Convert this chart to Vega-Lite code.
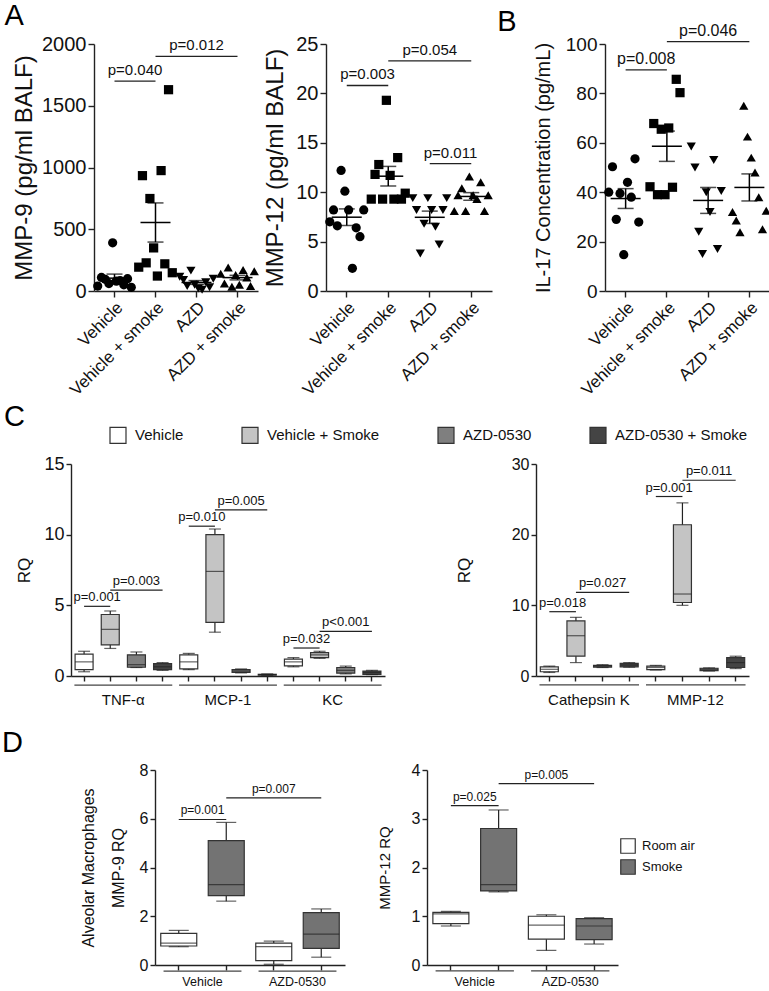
{
  "$schema": "https://vega.github.io/schema/vega-lite/v6.json",
  "background": "white",
  "padding": {"left": 2, "top": 2, "right": 2, "bottom": 0},
  "config": {
    "font": "Liberation Sans",
    "view": {"stroke": null},
    "axis": {"grid": false, "domainColor": "#222", "tickColor": "#222", "domainWidth": 1.4, "tickWidth": 1.4, "labelColor": "#111", "titleColor": "#111", "titleFontWeight": "normal"},
    "scale": {"nice": false},
    "title": {"fontSize": 29, "fontWeight": "normal", "anchor": "start", "frame": "bounds", "color": "#000"},
    "text": {"color": "#111"}
  },
  "datasets": {
    "mmp9": [
      {"g": "Vehicle", "v": 40}, {"g": "Vehicle", "v": 110}, {"g": "Vehicle", "v": 95}, {"g": "Vehicle", "v": 60}, {"g": "Vehicle", "v": 390},
      {"g": "Vehicle", "v": 80}, {"g": "Vehicle", "v": 85}, {"g": "Vehicle", "v": 50}, {"g": "Vehicle", "v": 100}, {"g": "Vehicle", "v": 30},
      {"g": "Vehicle + smoke", "v": 193}, {"g": "Vehicle + smoke", "v": 934}, {"g": "Vehicle + smoke", "v": 228}, {"g": "Vehicle + smoke", "v": 749}, {"g": "Vehicle + smoke", "v": 349},
      {"g": "Vehicle + smoke", "v": 121}, {"g": "Vehicle + smoke", "v": 975}, {"g": "Vehicle + smoke", "v": 220}, {"g": "Vehicle + smoke", "v": 1630}, {"g": "Vehicle + smoke", "v": 148},
      {"g": "AZD", "v": 115}, {"g": "AZD", "v": 90}, {"g": "AZD", "v": 40}, {"g": "AZD", "v": 165}, {"g": "AZD", "v": 50},
      {"g": "AZD", "v": 20}, {"g": "AZD", "v": 10}, {"g": "AZD", "v": 70}, {"g": "AZD", "v": 30}, {"g": "AZD", "v": 100},
      {"g": "AZD + smoke", "v": 140}, {"g": "AZD + smoke", "v": 60}, {"g": "AZD + smoke", "v": 190}, {"g": "AZD + smoke", "v": 35}, {"g": "AZD + smoke", "v": 130},
      {"g": "AZD + smoke", "v": 50}, {"g": "AZD + smoke", "v": 170}, {"g": "AZD + smoke", "v": 110}, {"g": "AZD + smoke", "v": 40}, {"g": "AZD + smoke", "v": 160}
    ],
    "mmp12": [
      {"g": "Vehicle", "v": 7.0}, {"g": "Vehicle", "v": 8.2}, {"g": "Vehicle", "v": 6.6}, {"g": "Vehicle", "v": 12.2}, {"g": "Vehicle", "v": 10.1},
      {"g": "Vehicle", "v": 8.2}, {"g": "Vehicle", "v": 2.3}, {"g": "Vehicle", "v": 6.4}, {"g": "Vehicle", "v": 5.5}, {"g": "Vehicle", "v": 8.2},
      {"g": "Vehicle + smoke", "v": 9.3}, {"g": "Vehicle + smoke", "v": 11.8}, {"g": "Vehicle + smoke", "v": 12.8}, {"g": "Vehicle + smoke", "v": 9.3}, {"g": "Vehicle + smoke", "v": 19.3},
      {"g": "Vehicle + smoke", "v": 11.7}, {"g": "Vehicle + smoke", "v": 9.3}, {"g": "Vehicle + smoke", "v": 13.5}, {"g": "Vehicle + smoke", "v": 9.3}, {"g": "Vehicle + smoke", "v": 9.9},
      {"g": "AZD", "v": 9.4}, {"g": "AZD", "v": 8.2}, {"g": "AZD", "v": 3.8}, {"g": "AZD", "v": 6.8}, {"g": "AZD", "v": 9.4},
      {"g": "AZD", "v": 8.2}, {"g": "AZD", "v": 6.5}, {"g": "AZD", "v": 4.7}, {"g": "AZD", "v": 8.2}, {"g": "AZD", "v": 9.4},
      {"g": "AZD + smoke", "v": 8.1}, {"g": "AZD + smoke", "v": 9.7}, {"g": "AZD + smoke", "v": 10.4}, {"g": "AZD + smoke", "v": 8.1}, {"g": "AZD + smoke", "v": 11.6},
      {"g": "AZD + smoke", "v": 9.7}, {"g": "AZD + smoke", "v": 9.3}, {"g": "AZD + smoke", "v": 11.0}, {"g": "AZD + smoke", "v": 8.1}, {"g": "AZD + smoke", "v": 9.7}
    ],
    "il17": [
      {"g": "Vehicle", "v": 40}, {"g": "Vehicle", "v": 50.3}, {"g": "Vehicle", "v": 29}, {"g": "Vehicle", "v": 39.5}, {"g": "Vehicle", "v": 14.7},
      {"g": "Vehicle", "v": 44}, {"g": "Vehicle", "v": 38}, {"g": "Vehicle", "v": 53.5}, {"g": "Vehicle", "v": 27.9},
      {"g": "Vehicle + smoke", "v": 42.2}, {"g": "Vehicle + smoke", "v": 67.8}, {"g": "Vehicle + smoke", "v": 39}, {"g": "Vehicle + smoke", "v": 65.5}, {"g": "Vehicle + smoke", "v": 39},
      {"g": "Vehicle + smoke", "v": 66}, {"g": "Vehicle + smoke", "v": 42}, {"g": "Vehicle + smoke", "v": 85.7}, {"g": "Vehicle + smoke", "v": 80.3},
      {"g": "AZD", "v": 58.5}, {"g": "AZD", "v": 50}, {"g": "AZD", "v": 24}, {"g": "AZD", "v": 15}, {"g": "AZD", "v": 40},
      {"g": "AZD", "v": 32}, {"g": "AZD", "v": 53}, {"g": "AZD", "v": 17}, {"g": "AZD", "v": 40.5},
      {"g": "AZD + smoke", "v": 32}, {"g": "AZD + smoke", "v": 28.5}, {"g": "AZD + smoke", "v": 23.8}, {"g": "AZD + smoke", "v": 75}, {"g": "AZD + smoke", "v": 62.5},
      {"g": "AZD + smoke", "v": 54}, {"g": "AZD + smoke", "v": 48}, {"g": "AZD + smoke", "v": 38}, {"g": "AZD + smoke", "v": 25}, {"g": "AZD + smoke", "v": 32.5}
    ],
    "brA1": [
      {"a": "Vehicle", "b": "Vehicle + smoke", "m": "Vehicle", "t": "adj", "y": 1700, "p": "p=0.040"},
      {"a": "Vehicle + smoke", "b": "AZD + smoke", "m": "AZD", "t": "mid", "y": 1900, "p": "p=0.012"}
    ],
    "brA2": [
      {"a": "Vehicle", "b": "Vehicle + smoke", "m": "Vehicle", "t": "adj", "y": 20.8, "p": "p=0.003"},
      {"a": "Vehicle + smoke", "b": "AZD + smoke", "m": "AZD", "t": "mid", "y": 23.3, "p": "p=0.054"},
      {"a": "AZD", "b": "AZD + smoke", "m": "AZD", "t": "adj", "y": 12.9, "p": "p=0.011"}
    ],
    "brB": [
      {"a": "Vehicle", "b": "Vehicle + smoke", "m": "Vehicle", "t": "adj", "y": 89.5, "p": "p=0.008"},
      {"a": "Vehicle + smoke", "b": "AZD + smoke", "m": "AZD", "t": "mid", "y": 101, "p": "p=0.046"}
    ],
    "boxC1": [
      {"k": "TNF-α|Vehicle", "grp": "Vehicle", "lo": 0.3, "q1": 0.45, "md": 1.0, "q3": 1.55, "hi": 1.75},
      {"k": "TNF-α|Vehicle + Smoke", "grp": "Vehicle + Smoke", "lo": 1.95, "q1": 2.2, "md": 3.3, "q3": 4.35, "hi": 4.6},
      {"k": "TNF-α|AZD-0530", "grp": "AZD-0530", "lo": 0.6, "q1": 0.62, "md": 0.8, "q3": 1.5, "hi": 1.7},
      {"k": "TNF-α|AZD-0530 + Smoke", "grp": "AZD-0530 + Smoke", "lo": 0.4, "q1": 0.45, "md": 0.65, "q3": 0.88, "hi": 0.95},
      {"k": "MCP-1|Vehicle", "grp": "Vehicle", "lo": 0.45, "q1": 0.5, "md": 1.0, "q3": 1.5, "hi": 1.6},
      {"k": "MCP-1|Vehicle + Smoke", "grp": "Vehicle + Smoke", "lo": 3.1, "q1": 3.8, "md": 7.4, "q3": 10.0, "hi": 10.4},
      {"k": "MCP-1|AZD-0530", "grp": "AZD-0530", "lo": 0.22, "q1": 0.25, "md": 0.35, "q3": 0.45, "hi": 0.5},
      {"k": "MCP-1|AZD-0530 + Smoke", "grp": "AZD-0530 + Smoke", "lo": 0.05, "q1": 0.06, "md": 0.1, "q3": 0.12, "hi": 0.15},
      {"k": "KC|Vehicle", "grp": "Vehicle", "lo": 0.65, "q1": 0.72, "md": 1.0, "q3": 1.2, "hi": 1.3},
      {"k": "KC|Vehicle + Smoke", "grp": "Vehicle + Smoke", "lo": 1.25, "q1": 1.3, "md": 1.5, "q3": 1.65, "hi": 1.75},
      {"k": "KC|AZD-0530", "grp": "AZD-0530", "lo": 0.15, "q1": 0.2, "md": 0.4, "q3": 0.6, "hi": 0.7},
      {"k": "KC|AZD-0530 + Smoke", "grp": "AZD-0530 + Smoke", "lo": 0.1, "q1": 0.12, "md": 0.25, "q3": 0.35, "hi": 0.4}
    ],
    "brC1": [
      {"a": "TNF-α|Vehicle", "b": "TNF-α|Vehicle + Smoke", "m": "TNF-α|Vehicle", "t": "adj", "y": 4.93, "p": "p=0.001"},
      {"a": "TNF-α|Vehicle + Smoke", "b": "TNF-α|AZD-0530 + Smoke", "m": "TNF-α|AZD-0530", "t": "mid", "y": 6.08, "p": "p=0.003"},
      {"a": "MCP-1|Vehicle", "b": "MCP-1|Vehicle + Smoke", "m": "MCP-1|Vehicle", "t": "adj", "y": 10.6, "p": "p=0.010"},
      {"a": "MCP-1|Vehicle + Smoke", "b": "MCP-1|AZD-0530 + Smoke", "m": "MCP-1|AZD-0530", "t": "mid", "y": 11.75, "p": "p=0.005"},
      {"a": "KC|Vehicle", "b": "KC|Vehicle + Smoke", "m": "KC|Vehicle", "t": "adj", "y": 1.98, "p": "p=0.032"},
      {"a": "KC|Vehicle + Smoke", "b": "KC|AZD-0530 + Smoke", "m": "KC|AZD-0530", "t": "mid", "y": 3.16, "p": "p<0.001"}
    ],
    "ulC1": [
      {"a": "TNF-α|Vehicle", "b": "TNF-α|AZD-0530 + Smoke"},
      {"a": "MCP-1|Vehicle", "b": "MCP-1|AZD-0530 + Smoke"},
      {"a": "KC|Vehicle", "b": "KC|AZD-0530 + Smoke"}
    ],
    "boxC2": [
      {"k": "Cathepsin K|Vehicle", "grp": "Vehicle", "lo": 0.5, "q1": 0.6, "md": 0.95, "q3": 1.3, "hi": 1.4},
      {"k": "Cathepsin K|Vehicle + Smoke", "grp": "Vehicle + Smoke", "lo": 1.9, "q1": 2.8, "md": 5.7, "q3": 7.8, "hi": 8.3},
      {"k": "Cathepsin K|AZD-0530", "grp": "AZD-0530", "lo": 1.2, "q1": 1.25, "md": 1.4, "q3": 1.5, "hi": 1.6},
      {"k": "Cathepsin K|AZD-0530 + Smoke", "grp": "AZD-0530 + Smoke", "lo": 1.25, "q1": 1.3, "md": 1.55, "q3": 1.8, "hi": 1.9},
      {"k": "MMP-12|Vehicle", "grp": "Vehicle", "lo": 0.85, "q1": 0.9, "md": 1.2, "q3": 1.4, "hi": 1.5},
      {"k": "MMP-12|Vehicle + Smoke", "grp": "Vehicle + Smoke", "lo": 10.0, "q1": 10.4, "md": 11.6, "q3": 21.4, "hi": 24.5},
      {"k": "MMP-12|AZD-0530", "grp": "AZD-0530", "lo": 0.7, "q1": 0.75, "md": 0.95, "q3": 1.1, "hi": 1.15},
      {"k": "MMP-12|AZD-0530 + Smoke", "grp": "AZD-0530 + Smoke", "lo": 1.05, "q1": 1.2, "md": 1.9, "q3": 2.6, "hi": 2.8}
    ],
    "brC2": [
      {"a": "Cathepsin K|Vehicle", "b": "Cathepsin K|Vehicle + Smoke", "m": "Cathepsin K|Vehicle", "t": "adj", "y": 9.1, "p": "p=0.018"},
      {"a": "Cathepsin K|Vehicle + Smoke", "b": "Cathepsin K|AZD-0530 + Smoke", "m": "Cathepsin K|AZD-0530", "t": "mid", "y": 11.84, "p": "p=0.027"},
      {"a": "MMP-12|Vehicle", "b": "MMP-12|Vehicle + Smoke", "m": "MMP-12|Vehicle", "t": "adj", "y": 25.4, "p": "p=0.001"},
      {"a": "MMP-12|Vehicle + Smoke", "b": "MMP-12|AZD-0530 + Smoke", "m": "MMP-12|AZD-0530", "t": "mid", "y": 27.7, "p": "p=0.011"}
    ],
    "ulC2": [
      {"a": "Cathepsin K|Vehicle", "b": "Cathepsin K|AZD-0530 + Smoke"},
      {"a": "MMP-12|Vehicle", "b": "MMP-12|AZD-0530 + Smoke"}
    ],
    "boxD1": [
      {"k": "Vehicle|Room air", "c": "Room air", "lo": 0.75, "q1": 0.78, "md": 0.9, "q3": 1.3, "hi": 1.42},
      {"k": "Vehicle|Smoke", "c": "Smoke", "lo": 2.62, "q1": 2.85, "md": 3.3, "q3": 5.1, "hi": 5.85},
      {"k": "AZD-0530|Room air", "c": "Room air", "lo": 0.03, "q1": 0.18, "md": 0.75, "q3": 0.9, "hi": 0.98},
      {"k": "AZD-0530|Smoke", "c": "Smoke", "lo": 0.32, "q1": 0.68, "md": 1.27, "q3": 2.15, "hi": 2.3}
    ],
    "brD1": [
      {"a": "Vehicle|Room air", "b": "Vehicle|Smoke", "m": "Vehicle|Room air", "t": "adj", "y": 5.97, "p": "p=0.001"},
      {"a": "Vehicle|Smoke", "b": "AZD-0530|Smoke", "m": "AZD-0530|Room air", "t": "mid", "y": 6.86, "p": "p=0.007"}
    ],
    "boxD2": [
      {"k": "Vehicle|Room air", "c": "Room air", "lo": 0.8, "q1": 0.85, "md": 1.05, "q3": 1.08, "hi": 1.1},
      {"k": "Vehicle|Smoke", "c": "Smoke", "lo": 1.5, "q1": 1.52, "md": 1.65, "q3": 2.8, "hi": 3.18},
      {"k": "AZD-0530|Room air", "c": "Room air", "lo": 0.3, "q1": 0.53, "md": 0.82, "q3": 1.0, "hi": 1.03},
      {"k": "AZD-0530|Smoke", "c": "Smoke", "lo": 0.43, "q1": 0.52, "md": 0.8, "q3": 0.95, "hi": 0.97}
    ],
    "brD2": [
      {"a": "Vehicle|Room air", "b": "Vehicle|Smoke", "m": "Vehicle|Room air", "t": "adj", "y": 3.27, "p": "p=0.025"},
      {"a": "Vehicle|Smoke", "b": "AZD-0530|Smoke", "m": "AZD-0530|Room air", "t": "mid", "y": 3.72, "p": "p=0.005"}
    ],
    "ulD": [
      {"a": "Vehicle|Room air", "b": "Vehicle|Smoke"},
      {"a": "AZD-0530|Room air", "b": "AZD-0530|Smoke"}
    ]
  },
  "columns": 1,
  "spacing": 4,
  "align": "none",
  "resolve": {"scale": {"color": "independent", "shape": "independent"}},
  "concat": [
    {
      "bounds": "flush",
      "spacing": 20,
      "resolve": {"scale": {"x": "independent", "y": "independent", "xOffset": "independent"}},
      "hconcat": [
        {
          "width": 3, "height": 247,
          "data": {"values": []},
          "mark": {"type": "point", "opacity": 0},
          "encoding": {}
        },
        {
          "width": 212, "height": 247,
          "title": {"text": "A", "dx": -8, "offset": 3},
          "layer": [
            {
              "data": {"name": "mmp9"},
              "transform": [{"window": [{"op": "row_number", "as": "r"}], "groupby": ["g"]}],
              "mark": {"type": "point", "filled": true, "opacity": 1, "color": "#000", "size": 85},
              "encoding": {
                "x": {"field": "g", "type": "nominal", "scale": {"type": "band", "domain": ["Vehicle", "Vehicle + smoke", "AZD", "AZD + smoke"], "range": [0, 164], "paddingInner": 0, "paddingOuter": 0}, "axis": {"title": null, "labelAngle": -45, "labelFontSize": 17, "tickSize": 6, "labelPadding": 2}},
                "xOffset": {"field": "r", "type": "ordinal", "scale": {"domain": [1, 2, 3, 4, 5, 6, 7, 8, 9, 10], "paddingOuter": 4}},
                "y": {"field": "v", "type": "quantitative", "title": "MMP-9 (pg/ml BALF)", "scale": {"domain": [0, 2000], "nice": false}, "axis": {"format": "d", "titleFontSize": 24, "labelFontSize": 20, "values": [0, 500, 1000, 1500, 2000], "tickSize": 6, "labelPadding": 2, "titlePadding": 5}},
                "shape": {"field": "g", "type": "nominal", "scale": {"domain": ["Vehicle", "Vehicle + smoke", "AZD", "AZD + smoke"], "range": ["circle", "square", "triangle-down", "triangle-up"]}, "legend": null}
              }
            },
            {
              "data": {"name": "mmp9"},
              "mark": {"type": "errorbar", "extent": "stderr", "color": "#000", "ticks": {"size": 16, "thickness": 1.5, "color": "#000"}, "rule": {"strokeWidth": 1.5}},
              "encoding": {"x": {"field": "g", "type": "nominal"}, "y": {"field": "v", "type": "quantitative", "title": "MMP-9 (pg/ml BALF)"}}
            },
            {
              "data": {"name": "mmp9"},
              "mark": {"type": "tick", "orient": "horizontal", "size": 30, "thickness": 1.5, "color": "#000"},
              "encoding": {"x": {"field": "g", "type": "nominal"}, "y": {"aggregate": "mean", "field": "v", "type": "quantitative", "title": "MMP-9 (pg/ml BALF)"}}
            },
            {
              "data": {"name": "brA1"},
              "mark": {"type": "rule", "color": "#222", "strokeWidth": 1.3},
              "encoding": {"x": {"field": "a", "type": "nominal"}, "x2": {"field": "b"}, "y": {"field": "y", "type": "quantitative"}}
            },
            {
              "data": {"name": "brA1"},
              "transform": [{"filter": "datum.t == 'adj'"}],
              "mark": {"type": "text", "baseline": "bottom", "dy": -3, "fontSize": 15},
              "encoding": {"x": {"field": "m", "type": "nominal", "bandPosition": 1}, "y": {"field": "y", "type": "quantitative"}, "text": {"field": "p"}}
            },
            {
              "data": {"name": "brA1"},
              "transform": [{"filter": "datum.t == 'mid'"}],
              "mark": {"type": "text", "baseline": "bottom", "dy": -3, "fontSize": 15},
              "encoding": {"x": {"field": "m", "type": "nominal", "bandPosition": 0.5}, "y": {"field": "y", "type": "quantitative"}, "text": {"field": "p"}}
            }
          ]
        },
        {
          "width": 259, "height": 247,
          "layer": [
            {
              "data": {"name": "mmp12"},
              "transform": [{"window": [{"op": "row_number", "as": "r"}], "groupby": ["g"]}],
              "mark": {"type": "point", "filled": true, "opacity": 1, "color": "#000", "size": 85},
              "encoding": {
                "x": {"field": "g", "type": "nominal", "scale": {"type": "band", "domain": ["Vehicle", "Vehicle + smoke", "AZD", "AZD + smoke"], "range": [0, 166], "paddingInner": 0, "paddingOuter": 0}, "axis": {"title": null, "labelAngle": -45, "labelFontSize": 17, "tickSize": 6, "labelPadding": 2}},
                "xOffset": {"field": "r", "type": "ordinal", "scale": {"domain": [1, 2, 3, 4, 5, 6, 7, 8, 9, 10], "paddingOuter": 4}},
                "y": {"field": "v", "type": "quantitative", "title": "MMP-12 (pg/ml BALF)", "scale": {"domain": [0, 25], "nice": false}, "axis": {"titleFontSize": 24, "labelFontSize": 20, "values": [0, 5, 10, 15, 20, 25], "tickSize": 6, "labelPadding": 2, "titlePadding": 8}},
                "shape": {"field": "g", "type": "nominal", "scale": {"domain": ["Vehicle", "Vehicle + smoke", "AZD", "AZD + smoke"], "range": ["circle", "square", "triangle-down", "triangle-up"]}, "legend": null}
              }
            },
            {
              "data": {"name": "mmp12"},
              "mark": {"type": "errorbar", "extent": "stderr", "color": "#000", "ticks": {"size": 16, "thickness": 1.5, "color": "#000"}, "rule": {"strokeWidth": 1.5}},
              "encoding": {"x": {"field": "g", "type": "nominal"}, "y": {"field": "v", "type": "quantitative", "title": "MMP-12 (pg/ml BALF)"}}
            },
            {
              "data": {"name": "mmp12"},
              "mark": {"type": "tick", "orient": "horizontal", "size": 30, "thickness": 1.5, "color": "#000"},
              "encoding": {"x": {"field": "g", "type": "nominal"}, "y": {"aggregate": "mean", "field": "v", "type": "quantitative", "title": "MMP-12 (pg/ml BALF)"}}
            },
            {
              "data": {"name": "brA2"},
              "mark": {"type": "rule", "color": "#222", "strokeWidth": 1.3},
              "encoding": {"x": {"field": "a", "type": "nominal"}, "x2": {"field": "b"}, "y": {"field": "y", "type": "quantitative"}}
            },
            {
              "data": {"name": "brA2"},
              "transform": [{"filter": "datum.t == 'adj'"}],
              "mark": {"type": "text", "baseline": "bottom", "dy": -3, "fontSize": 15},
              "encoding": {"x": {"field": "m", "type": "nominal", "bandPosition": 1}, "y": {"field": "y", "type": "quantitative"}, "text": {"field": "p"}}
            },
            {
              "data": {"name": "brA2"},
              "transform": [{"filter": "datum.t == 'mid'"}],
              "mark": {"type": "text", "baseline": "bottom", "dy": -3, "fontSize": 15},
              "encoding": {"x": {"field": "m", "type": "nominal", "bandPosition": 0.5}, "y": {"field": "y", "type": "quantitative"}, "text": {"field": "p"}}
            }
          ]
        },
        {
          "width": 165, "height": 247,
          "title": {"text": "B", "dx": -36, "offset": -14},
          "layer": [
            {
              "data": {"name": "il17"},
              "transform": [{"window": [{"op": "row_number", "as": "r"}], "groupby": ["g"]}],
              "mark": {"type": "point", "filled": true, "opacity": 1, "color": "#000", "size": 85},
              "encoding": {
                "x": {"field": "g", "type": "nominal", "scale": {"type": "band", "domain": ["Vehicle", "Vehicle + smoke", "AZD", "AZD + smoke"], "paddingInner": 0, "paddingOuter": 0}, "axis": {"title": null, "labelAngle": -45, "labelFontSize": 17, "tickSize": 6, "labelPadding": 2}},
                "xOffset": {"field": "r", "type": "ordinal", "scale": {"domain": [1, 2, 3, 4, 5, 6, 7, 8, 9, 10], "paddingOuter": 4}},
                "y": {"field": "v", "type": "quantitative", "title": "IL-17 Concentration (pg/mL)", "scale": {"domain": [0, 100], "nice": false}, "axis": {"titleFontSize": 20, "labelFontSize": 19, "values": [0, 20, 40, 60, 80, 100], "tickSize": 6, "labelPadding": 2, "titlePadding": 12}},
                "shape": {"field": "g", "type": "nominal", "scale": {"domain": ["Vehicle", "Vehicle + smoke", "AZD", "AZD + smoke"], "range": ["circle", "square", "triangle-down", "triangle-up"]}, "legend": null}
              }
            },
            {
              "data": {"name": "il17"},
              "mark": {"type": "errorbar", "extent": "stderr", "color": "#000", "ticks": {"size": 16, "thickness": 1.5, "color": "#000"}, "rule": {"strokeWidth": 1.5}},
              "encoding": {"x": {"field": "g", "type": "nominal"}, "y": {"field": "v", "type": "quantitative", "title": "IL-17 Concentration (pg/mL)"}}
            },
            {
              "data": {"name": "il17"},
              "mark": {"type": "tick", "orient": "horizontal", "size": 30, "thickness": 1.5, "color": "#000"},
              "encoding": {"x": {"field": "g", "type": "nominal"}, "y": {"aggregate": "mean", "field": "v", "type": "quantitative", "title": "IL-17 Concentration (pg/mL)"}}
            },
            {
              "data": {"name": "brB"},
              "mark": {"type": "rule", "color": "#222", "strokeWidth": 1.3},
              "encoding": {"x": {"field": "a", "type": "nominal"}, "x2": {"field": "b"}, "y": {"field": "y", "type": "quantitative"}}
            },
            {
              "data": {"name": "brB"},
              "transform": [{"filter": "datum.t == 'adj'"}],
              "mark": {"type": "text", "baseline": "bottom", "dy": -3, "fontSize": 16},
              "encoding": {"x": {"field": "m", "type": "nominal", "bandPosition": 1}, "y": {"field": "y", "type": "quantitative"}, "text": {"field": "p"}}
            },
            {
              "data": {"name": "brB"},
              "transform": [{"filter": "datum.t == 'mid'"}],
              "mark": {"type": "text", "baseline": "bottom", "dy": -3, "fontSize": 16},
              "encoding": {"x": {"field": "m", "type": "nominal", "bandPosition": 0.5}, "y": {"field": "y", "type": "quantitative"}, "text": {"field": "p"}}
            }
          ]
        }
      ]
    },
    {
      "columns": 1,
      "spacing": 22,
      "align": "none",
      "resolve": {"scale": {"color": "independent"}},
      "concat": [
        {
          "title": {"text": "C", "dx": -12, "offset": -6},
          "spacing": 70,
          "resolve": {"scale": {"color": "shared", "x": "independent", "y": "independent"}},
          "hconcat": [
            {
              "width": 314, "height": 212,
              "layer": [
                {
                  "data": {"name": "boxC1"},
                  "mark": {"type": "rule", "color": "#222", "strokeWidth": 1.2},
                  "encoding": {
                    "x": {"field": "k", "type": "nominal", "scale": {"type": "band", "domain": ["TNF-α|Vehicle", "TNF-α|Vehicle + Smoke", "TNF-α|AZD-0530", "TNF-α|AZD-0530 + Smoke", "MCP-1|Vehicle", "MCP-1|Vehicle + Smoke", "MCP-1|AZD-0530", "MCP-1|AZD-0530 + Smoke", "KC|Vehicle", "KC|Vehicle + Smoke", "KC|AZD-0530", "KC|AZD-0530 + Smoke"], "paddingInner": 0, "paddingOuter": 0}, "axis": {"title": null, "labelAngle": 0, "labelFontSize": 15, "tickSize": 5, "labelPadding": 11, "labelOffset": 13, "labelExpr": "split(datum.value, '|')[1] == 'Vehicle + Smoke' ? split(datum.value, '|')[0] : ''"}},
                    "y": {"field": "lo", "type": "quantitative", "title": "RQ", "scale": {"domain": [0, 15], "nice": false}, "axis": {"titleFontSize": 17, "labelFontSize": 18, "values": [0, 5, 10, 15], "tickSize": 5, "labelPadding": 2, "titlePadding": 10}},
                    "y2": {"field": "hi"}
                  }
                },
                {
                  "data": {"name": "boxC1"},
                  "mark": {"type": "bar", "width": 18, "stroke": "#333", "strokeWidth": 1.2},
                  "encoding": {
                    "x": {"field": "k", "type": "nominal"},
                    "y": {"field": "q1", "type": "quantitative", "title": "RQ"},
                    "y2": {"field": "q3"},
                    "color": {"field": "grp", "type": "nominal", "scale": {"domain": ["Vehicle", "Vehicle + Smoke", "AZD-0530", "AZD-0530 + Smoke"], "range": ["#ffffff", "#c4c4c4", "#7f7f7f", "#444444"]}, "legend": {"title": null, "orient": "none", "legendX": 38, "legendY": -38, "direction": "horizontal", "columns": 4, "symbolType": "square", "symbolSize": 256, "symbolStrokeColor": "#333", "symbolStrokeWidth": 1.2, "labelFontSize": 15, "labelColor": "#111", "columnPadding": 55, "labelOffset": 8}}
                  }
                },
                {
                  "data": {"name": "boxC1"},
                  "mark": {"type": "tick", "orient": "horizontal", "size": 18, "thickness": 1.2, "color": "#222"},
                  "encoding": {"x": {"field": "k", "type": "nominal"}, "y": {"field": "md", "type": "quantitative", "title": "RQ"}}
                },
                {
                  "data": {"name": "boxC1"},
                  "mark": {"type": "tick", "orient": "horizontal", "size": 12, "thickness": 1.2, "color": "#222"},
                  "encoding": {"x": {"field": "k", "type": "nominal"}, "y": {"field": "hi", "type": "quantitative", "title": "RQ"}}
                },
                {
                  "data": {"name": "boxC1"},
                  "mark": {"type": "tick", "orient": "horizontal", "size": 12, "thickness": 1.2, "color": "#222"},
                  "encoding": {"x": {"field": "k", "type": "nominal"}, "y": {"field": "lo", "type": "quantitative", "title": "RQ"}}
                },
                {
                  "data": {"name": "brC1"},
                  "mark": {"type": "rule", "color": "#222", "strokeWidth": 1.2},
                  "encoding": {"x": {"field": "a", "type": "nominal"}, "x2": {"field": "b"}, "y": {"field": "y", "type": "quantitative"}}
                },
                {
                  "data": {"name": "brC1"},
                  "transform": [{"filter": "datum.t == 'adj'"}],
                  "mark": {"type": "text", "baseline": "bottom", "dy": -2, "fontSize": 13},
                  "encoding": {"x": {"field": "m", "type": "nominal", "bandPosition": 1}, "y": {"field": "y", "type": "quantitative"}, "text": {"field": "p"}}
                },
                {
                  "data": {"name": "brC1"},
                  "transform": [{"filter": "datum.t == 'mid'"}],
                  "mark": {"type": "text", "baseline": "bottom", "dy": -2, "fontSize": 13},
                  "encoding": {"x": {"field": "m", "type": "nominal", "bandPosition": 0.5}, "y": {"field": "y", "type": "quantitative"}, "text": {"field": "p"}}
                },
                {
                  "data": {"name": "ulC1"},
                  "mark": {"type": "rule", "color": "#444", "strokeWidth": 1.2},
                  "encoding": {"x": {"field": "a", "type": "nominal", "bandPosition": 0.13}, "x2": {"field": "b", "bandPosition": 0.87}, "y": {"datum": -0.64}}
                }
              ]
            },
            {
              "width": 213, "height": 212,
              "layer": [
                {
                  "data": {"name": "boxC2"},
                  "mark": {"type": "rule", "color": "#222", "strokeWidth": 1.2},
                  "encoding": {
                    "x": {"field": "k", "type": "nominal", "scale": {"type": "band", "domain": ["Cathepsin K|Vehicle", "Cathepsin K|Vehicle + Smoke", "Cathepsin K|AZD-0530", "Cathepsin K|AZD-0530 + Smoke", "MMP-12|Vehicle", "MMP-12|Vehicle + Smoke", "MMP-12|AZD-0530", "MMP-12|AZD-0530 + Smoke"], "paddingInner": 0, "paddingOuter": 0}, "axis": {"title": null, "labelAngle": 0, "labelFontSize": 15, "tickSize": 5, "labelPadding": 11, "labelOffset": 13, "labelExpr": "split(datum.value, '|')[1] == 'Vehicle + Smoke' ? split(datum.value, '|')[0] : ''"}},
                    "y": {"field": "lo", "type": "quantitative", "title": "RQ", "scale": {"domain": [0, 30], "nice": false}, "axis": {"titleFontSize": 17, "labelFontSize": 16, "values": [0, 10, 20, 30], "tickSize": 5, "labelPadding": 2, "titlePadding": 38}},
                    "y2": {"field": "hi"}
                  }
                },
                {
                  "data": {"name": "boxC2"},
                  "mark": {"type": "bar", "width": 18, "stroke": "#333", "strokeWidth": 1.2},
                  "encoding": {
                    "x": {"field": "k", "type": "nominal"},
                    "y": {"field": "q1", "type": "quantitative", "title": "RQ"},
                    "y2": {"field": "q3"},
                    "color": {"field": "grp", "type": "nominal", "scale": {"domain": ["Vehicle", "Vehicle + Smoke", "AZD-0530", "AZD-0530 + Smoke"], "range": ["#ffffff", "#c4c4c4", "#7f7f7f", "#444444"]}, "legend": {"title": null, "orient": "none", "legendX": 38, "legendY": -38, "direction": "horizontal", "columns": 4, "symbolType": "square", "symbolSize": 256, "symbolStrokeColor": "#333", "symbolStrokeWidth": 1.2, "labelFontSize": 15, "labelColor": "#111", "columnPadding": 55, "labelOffset": 8}}
                  }
                },
                {
                  "data": {"name": "boxC2"},
                  "mark": {"type": "tick", "orient": "horizontal", "size": 18, "thickness": 1.2, "color": "#222"},
                  "encoding": {"x": {"field": "k", "type": "nominal"}, "y": {"field": "md", "type": "quantitative", "title": "RQ"}}
                },
                {
                  "data": {"name": "boxC2"},
                  "mark": {"type": "tick", "orient": "horizontal", "size": 12, "thickness": 1.2, "color": "#222"},
                  "encoding": {"x": {"field": "k", "type": "nominal"}, "y": {"field": "hi", "type": "quantitative", "title": "RQ"}}
                },
                {
                  "data": {"name": "boxC2"},
                  "mark": {"type": "tick", "orient": "horizontal", "size": 12, "thickness": 1.2, "color": "#222"},
                  "encoding": {"x": {"field": "k", "type": "nominal"}, "y": {"field": "lo", "type": "quantitative", "title": "RQ"}}
                },
                {
                  "data": {"name": "brC2"},
                  "mark": {"type": "rule", "color": "#222", "strokeWidth": 1.2},
                  "encoding": {"x": {"field": "a", "type": "nominal"}, "x2": {"field": "b"}, "y": {"field": "y", "type": "quantitative"}}
                },
                {
                  "data": {"name": "brC2"},
                  "transform": [{"filter": "datum.t == 'adj'"}],
                  "mark": {"type": "text", "baseline": "bottom", "dy": -2, "fontSize": 13},
                  "encoding": {"x": {"field": "m", "type": "nominal", "bandPosition": 1}, "y": {"field": "y", "type": "quantitative"}, "text": {"field": "p"}}
                },
                {
                  "data": {"name": "brC2"},
                  "transform": [{"filter": "datum.t == 'mid'"}],
                  "mark": {"type": "text", "baseline": "bottom", "dy": -2, "fontSize": 13},
                  "encoding": {"x": {"field": "m", "type": "nominal", "bandPosition": 0.5}, "y": {"field": "y", "type": "quantitative"}, "text": {"field": "p"}}
                },
                {
                  "data": {"name": "ulC2"},
                  "mark": {"type": "rule", "color": "#444", "strokeWidth": 1.2},
                  "encoding": {"x": {"field": "a", "type": "nominal", "bandPosition": 0.13}, "x2": {"field": "b", "bandPosition": 0.87}, "y": {"datum": -1.27}}
                }
              ]
            }
          ]
        },
        {
          "bounds": "flush",
          "spacing": 82,
          "resolve": {"scale": {"color": "independent", "x": "independent", "y": "independent"}},
          "hconcat": [
            {
              "width": 2, "height": 195,
              "data": {"values": []},
              "mark": {"type": "point", "opacity": 0},
              "encoding": {}
            },
            {
              "width": 190, "height": 195,
              "title": {"text": "D", "dx": -78, "offset": 4},
              "layer": [
                {
                  "data": {"name": "boxD1"},
                  "mark": {"type": "rule", "color": "#222", "strokeWidth": 1.2},
                  "encoding": {
                    "x": {"field": "k", "type": "nominal", "scale": {"type": "band", "domain": ["Vehicle|Room air", "Vehicle|Smoke", "AZD-0530|Room air", "AZD-0530|Smoke"], "paddingInner": 0, "paddingOuter": 0}, "axis": {"title": null, "labelAngle": 0, "labelFontSize": 12.5, "tickSize": 5, "labelPadding": 5, "labelOffset": 23.75, "labelExpr": "split(datum.value, '|')[1] == 'Room air' ? split(datum.value, '|')[0] : ''"}},
                    "y": {"field": "lo", "type": "quantitative", "title": ["Alveolar Macrophages", "MMP-9 RQ"], "scale": {"domain": [0, 8], "nice": false}, "axis": {"titleFontSize": 16, "titleLineHeight": 30, "labelFontSize": 16, "values": [0, 2, 4, 6, 8], "tickSize": 5, "labelPadding": 2, "titlePadding": 13}},
                    "y2": {"field": "hi"}
                  }
                },
                {
                  "data": {"name": "boxD1"},
                  "mark": {"type": "bar", "width": 36, "stroke": "#333", "strokeWidth": 1.2},
                  "encoding": {
                    "x": {"field": "k", "type": "nominal"},
                    "y": {"field": "q1", "type": "quantitative", "title": ["Alveolar Macrophages", "MMP-9 RQ"]},
                    "y2": {"field": "q3"},
                    "color": {"field": "c", "type": "nominal", "scale": {"domain": ["Room air", "Smoke"], "range": ["#ffffff", "#737373"]}, "legend": null}
                  }
                },
                {
                  "data": {"name": "boxD1"},
                  "mark": {"type": "tick", "orient": "horizontal", "size": 36, "thickness": 1.2, "color": "#222"},
                  "encoding": {"x": {"field": "k", "type": "nominal"}, "y": {"field": "md", "type": "quantitative", "title": ["Alveolar Macrophages", "MMP-9 RQ"]}}
                },
                {
                  "data": {"name": "boxD1"},
                  "mark": {"type": "tick", "orient": "horizontal", "size": 20, "thickness": 1.2, "color": "#222"},
                  "encoding": {"x": {"field": "k", "type": "nominal"}, "y": {"field": "hi", "type": "quantitative", "title": ["Alveolar Macrophages", "MMP-9 RQ"]}}
                },
                {
                  "data": {"name": "boxD1"},
                  "mark": {"type": "tick", "orient": "horizontal", "size": 20, "thickness": 1.2, "color": "#222"},
                  "encoding": {"x": {"field": "k", "type": "nominal"}, "y": {"field": "lo", "type": "quantitative", "title": ["Alveolar Macrophages", "MMP-9 RQ"]}}
                },
                {
                  "data": {"name": "brD1"},
                  "mark": {"type": "rule", "color": "#222", "strokeWidth": 1.2},
                  "encoding": {"x": {"field": "a", "type": "nominal"}, "x2": {"field": "b"}, "y": {"field": "y", "type": "quantitative"}}
                },
                {
                  "data": {"name": "brD1"},
                  "transform": [{"filter": "datum.t == 'adj'"}],
                  "mark": {"type": "text", "baseline": "bottom", "dy": -2, "fontSize": 12},
                  "encoding": {"x": {"field": "m", "type": "nominal", "bandPosition": 1}, "y": {"field": "y", "type": "quantitative"}, "text": {"field": "p"}}
                },
                {
                  "data": {"name": "brD1"},
                  "transform": [{"filter": "datum.t == 'mid'"}],
                  "mark": {"type": "text", "baseline": "bottom", "dy": -2, "fontSize": 12},
                  "encoding": {"x": {"field": "m", "type": "nominal", "bandPosition": 0.5}, "y": {"field": "y", "type": "quantitative"}, "text": {"field": "p"}}
                },
                {
                  "data": {"name": "ulD"},
                  "mark": {"type": "rule", "color": "#444", "strokeWidth": 1.2},
                  "encoding": {"x": {"field": "a", "type": "nominal", "bandPosition": 0.18}, "x2": {"field": "b", "bandPosition": 0.82}, "y": {"datum": -0.25}}
                }
              ]
            },
            {
              "width": 191, "height": 195,
              "layer": [
                {
                  "data": {"name": "boxD2"},
                  "mark": {"type": "rule", "color": "#222", "strokeWidth": 1.2},
                  "encoding": {
                    "x": {"field": "k", "type": "nominal", "scale": {"type": "band", "domain": ["Vehicle|Room air", "Vehicle|Smoke", "AZD-0530|Room air", "AZD-0530|Smoke"], "paddingInner": 0, "paddingOuter": 0}, "axis": {"title": null, "labelAngle": 0, "labelFontSize": 12.5, "tickSize": 5, "labelPadding": 5, "labelOffset": 23.9, "labelExpr": "split(datum.value, '|')[1] == 'Room air' ? split(datum.value, '|')[0] : ''"}},
                    "y": {"field": "lo", "type": "quantitative", "title": "MMP-12 RQ", "scale": {"domain": [0, 4], "nice": false}, "axis": {"titleFontSize": 15, "labelFontSize": 16, "values": [0, 1, 2, 3, 4], "tickSize": 5, "labelPadding": 2, "titlePadding": 19}},
                    "y2": {"field": "hi"}
                  }
                },
                {
                  "data": {"name": "boxD2"},
                  "mark": {"type": "bar", "width": 36, "stroke": "#333", "strokeWidth": 1.2},
                  "encoding": {
                    "x": {"field": "k", "type": "nominal"},
                    "y": {"field": "q1", "type": "quantitative", "title": "MMP-12 RQ"},
                    "y2": {"field": "q3"},
                    "color": {"field": "c", "type": "nominal", "scale": {"domain": ["Room air", "Smoke"], "range": ["#ffffff", "#737373"]}, "legend": {"title": null, "orient": "none", "legendX": 193, "legendY": 68, "symbolType": "square", "symbolSize": 210, "symbolStrokeColor": "#333", "symbolStrokeWidth": 1.2, "labelFontSize": 13, "labelColor": "#111", "rowPadding": 1, "labelOffset": 6}}
                  }
                },
                {
                  "data": {"name": "boxD2"},
                  "mark": {"type": "tick", "orient": "horizontal", "size": 36, "thickness": 1.2, "color": "#222"},
                  "encoding": {"x": {"field": "k", "type": "nominal"}, "y": {"field": "md", "type": "quantitative", "title": "MMP-12 RQ"}}
                },
                {
                  "data": {"name": "boxD2"},
                  "mark": {"type": "tick", "orient": "horizontal", "size": 20, "thickness": 1.2, "color": "#222"},
                  "encoding": {"x": {"field": "k", "type": "nominal"}, "y": {"field": "hi", "type": "quantitative", "title": "MMP-12 RQ"}}
                },
                {
                  "data": {"name": "boxD2"},
                  "mark": {"type": "tick", "orient": "horizontal", "size": 20, "thickness": 1.2, "color": "#222"},
                  "encoding": {"x": {"field": "k", "type": "nominal"}, "y": {"field": "lo", "type": "quantitative", "title": "MMP-12 RQ"}}
                },
                {
                  "data": {"name": "brD2"},
                  "mark": {"type": "rule", "color": "#222", "strokeWidth": 1.2},
                  "encoding": {"x": {"field": "a", "type": "nominal"}, "x2": {"field": "b"}, "y": {"field": "y", "type": "quantitative"}}
                },
                {
                  "data": {"name": "brD2"},
                  "transform": [{"filter": "datum.t == 'adj'"}],
                  "mark": {"type": "text", "baseline": "bottom", "dy": -2, "fontSize": 12},
                  "encoding": {"x": {"field": "m", "type": "nominal", "bandPosition": 1}, "y": {"field": "y", "type": "quantitative"}, "text": {"field": "p"}}
                },
                {
                  "data": {"name": "brD2"},
                  "transform": [{"filter": "datum.t == 'mid'"}],
                  "mark": {"type": "text", "baseline": "bottom", "dy": -2, "fontSize": 12},
                  "encoding": {"x": {"field": "m", "type": "nominal", "bandPosition": 0.5}, "y": {"field": "y", "type": "quantitative"}, "text": {"field": "p"}}
                },
                {
                  "data": {"name": "ulD"},
                  "mark": {"type": "rule", "color": "#444", "strokeWidth": 1.2},
                  "encoding": {"x": {"field": "a", "type": "nominal", "bandPosition": 0.18}, "x2": {"field": "b", "bandPosition": 0.82}, "y": {"datum": -0.12}}
                }
              ]
            }
          ]
        }
      ]
    }
  ]
}
